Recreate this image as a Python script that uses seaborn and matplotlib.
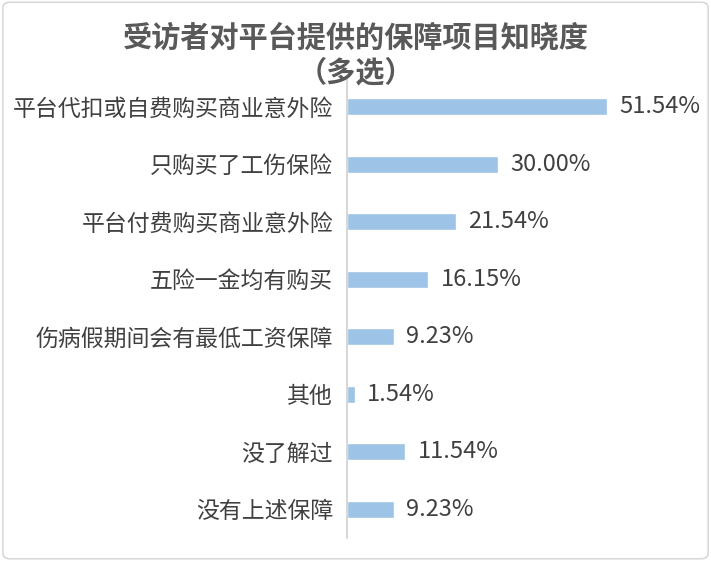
import matplotlib.pyplot as plt
import pandas as pd
import seaborn as sns
from matplotlib.patches import FancyBboxPatch

categories = ["平台代扣或自费购买商业意外险", "只购买了工伤保险", "平台付费购买商业意外险",
              "五险一金均有购买", "伤病假期间会有最低工资保障", "其他", "没了解过", "没有上述保障"]
values = [51.54, 30.00, 21.54, 16.15, 9.23, 1.54, 11.54, 9.23]

sns.set_theme(style="white")
plt.rcParams["font.family"] = ["Noto Sans CJK SC", "DejaVu Sans"]

data = pd.DataFrame({"item": categories, "pct": values})

fig = plt.figure(figsize=(7.11, 5.61), dpi=100)
ax = fig.add_axes([347 / 711, 23 / 561, 353 / 711, 460 / 561])
sns.barplot(data=data, x="pct", y="item", orient="h", color="#9DC3E6",
            saturation=1, width=0.3, ax=ax)

ax.set_xlim(0, 70)
ax.set_xlabel("")
ax.set_ylabel("")
ax.set_xticks([])
for side in ["top", "right", "bottom"]:
    ax.spines[side].set_visible(False)
ax.spines["left"].set_color("#D0D0D0")
ax.spines["left"].set_linewidth(1.2)
ax.tick_params(axis="y", length=0, pad=10, labelsize=16.5, labelcolor="#404040")

ax.bar_label(ax.containers[0], labels=[f"{v:.2f}%" for v in values],
             padding=9, fontsize=17, color="#404040")

fig.text(0.5, 1 - 38 / 561, "受访者对平台提供的保障项目知晓度", ha="center", va="center",
         fontsize=21, fontweight="bold", color="#595959")
fig.text(0.5, 1 - 72 / 561, "（多选）", ha="center", va="center",
         fontsize=21, fontweight="bold", color="#595959")

border = FancyBboxPatch((0.004, 0.004), 0.992, 0.992, boxstyle="round,pad=0,rounding_size=0.01",
                        transform=fig.transFigure, fill=False, edgecolor="#D9D9D9", linewidth=1.2)
fig.patches.append(border)

fig.savefig("out.png", dpi=100)
